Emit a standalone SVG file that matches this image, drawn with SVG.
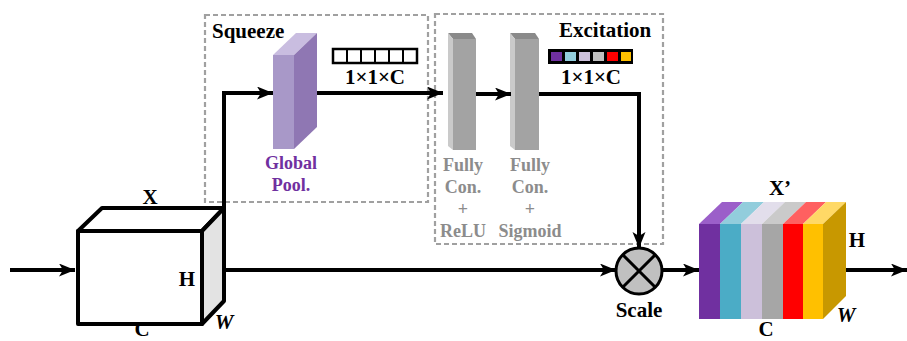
<svg xmlns="http://www.w3.org/2000/svg" width="907" height="341" viewBox="0 0 907 341">
<defs>
<style>
.lbl{font-family:"Liberation Serif","Times New Roman",serif;font-weight:bold;font-size:21px;fill:#000}
.it{font-style:italic}
.gray{font-family:"Liberation Serif","Times New Roman",serif;font-weight:bold;font-size:18px;fill:#8c8c8c;text-anchor:middle}
.purp{font-family:"Liberation Serif","Times New Roman",serif;font-weight:bold;font-size:18px;fill:#7030a0;text-anchor:middle}
.dash{fill:none;stroke:#a0a0a0;stroke-width:2.2;stroke-dasharray:5,3}
.conn{fill:none;stroke:#000;stroke-width:4}
.edge{stroke:#000;stroke-width:4;stroke-linejoin:round}
</style>
<marker id="ah" markerUnits="userSpaceOnUse" markerWidth="17" markerHeight="14" refX="16" refY="6.5" orient="auto">
<path d="M0,0 L16,6.5 L0,13 L4,6.5 z" fill="#000"/>
</marker>
</defs>

<rect width="907" height="341" fill="#fff"/>

<g id="squeeze-box">
<rect class="dash" x="205" y="15" width="223" height="187"/>
<text class="lbl" x="212" y="38">Squeeze</text>
</g>

<g id="excitation-box">
<rect class="dash" x="435" y="14" width="228" height="230"/>
<text class="lbl" x="559" y="37">Excitation</text>
</g>

<g id="input-x">
<polygon points="78,231 102,208 224,208 202,231" fill="#fff" class="edge"/>
<polygon points="202,231 224,208 224,301 202,324" fill="#e3e3e3" class="edge"/>
<rect x="78" y="231" width="124" height="93" fill="#fff" class="edge"/>
<text class="lbl" x="150" y="204" text-anchor="middle">X</text>
<text class="lbl" x="187" y="286" text-anchor="middle">H</text>
<text class="lbl it" x="224" y="329" text-anchor="middle">W</text>
<text class="lbl" x="142" y="336" font-size="14" text-anchor="middle">C</text>
</g>

<g id="global-pool">
<polygon points="273,55 296,33 317,33 294,55" fill="#c9bde0"/>
<polygon points="294,55 317,33 317,127 294,149" fill="#8f77b3"/>
<rect x="273" y="55" width="21" height="94" fill="#a898c8"/>
<text class="purp" x="291" y="169">Global</text>
<text class="purp" x="291" y="191">Pool.</text>
</g>

<g id="vec-squeeze">
<rect x="333" y="49" width="84" height="14" fill="#fff" stroke="#000" stroke-width="2.5"/>
<path d="M347,49V63M361,49V63M375,49V63M389,49V63M403,49V63" stroke="#000" stroke-width="2"/>
<text class="lbl" x="375" y="84" text-anchor="middle">1×1×C</text>
</g>

<g id="fc-relu">
<polygon points="448,33 472,33 476,39 453,39" fill="#8a8a8a"/>
<polygon points="448,33 453,39 453,150 448,146" fill="#cacaca"/>
<rect x="453" y="39" width="23" height="111" fill="#a3a3a3"/>
<text class="gray" x="463" y="171">Fully</text>
<text class="gray" x="463" y="193">Con.</text>
<text class="gray" x="463" y="215">+</text>
<text class="gray" x="463" y="237">ReLU</text>
</g>

<g id="fc-sigmoid">
<polygon points="510,33 535,33 539,39 515,39" fill="#8a8a8a"/>
<polygon points="510,33 515,39 515,150 510,146" fill="#cacaca"/>
<rect x="515" y="39" width="24" height="111" fill="#a3a3a3"/>
<text class="gray" x="530" y="171">Fully</text>
<text class="gray" x="530" y="193">Con.</text>
<text class="gray" x="530" y="215">+</text>
<text class="gray" x="530" y="237">Sigmoid</text>
</g>

<g id="vec-excitation">
<rect x="548" y="49" width="85" height="15" fill="#000"/>
<rect x="551" y="52" width="11" height="9" fill="#7030a0"/>
<rect x="565" y="52" width="11" height="9" fill="#92cddc"/>
<rect x="579" y="52" width="11" height="9" fill="#ccc0da"/>
<rect x="593" y="52" width="11" height="9" fill="#bfbfbf"/>
<rect x="607" y="52" width="11" height="9" fill="#ff0000"/>
<rect x="621" y="52" width="10" height="9" fill="#ffc000"/>
<text class="lbl" x="591" y="84" text-anchor="middle">1×1×C</text>
</g>

<g id="scale">
<circle cx="639" cy="271" r="23" fill="#c0c0c0" stroke="#000" stroke-width="3"/>
<path d="M622.7,254.7L655.3,287.3M655.3,254.7L622.7,287.3" stroke="#000" stroke-width="3"/>
<text class="lbl" x="639" y="317" text-anchor="middle">Scale</text>
</g>

<g id="output-x">
<polygon points="699,224 722,202 743,202 720,224" fill="#9b5fc9"/>
<polygon points="720,224 743,202 764,202 741,224" fill="#92cddc"/>
<polygon points="741,224 764,202 785,202 762,224" fill="#e2deeb"/>
<polygon points="762,224 785,202 806,202 783,224" fill="#cacaca"/>
<polygon points="783,224 806,202 826,202 803,224" fill="#ff6060"/>
<polygon points="803,224 826,202 846,202 823,224" fill="#ffd966"/>
<polygon points="823,224 846,202 846,296 823,319" fill="#c89800"/>
<rect x="699" y="224" width="21" height="95" fill="#7030a0"/>
<rect x="720" y="224" width="21" height="95" fill="#4bacc6"/>
<rect x="741" y="224" width="21" height="95" fill="#ccc0da"/>
<rect x="762" y="224" width="21" height="95" fill="#a6a6a6"/>
<rect x="783" y="224" width="20" height="95" fill="#ff0000"/>
<rect x="803" y="224" width="20" height="95" fill="#ffc000"/>
<text class="lbl" x="780" y="195" text-anchor="middle">X’</text>
<text class="lbl" x="857" y="247" text-anchor="middle">H</text>
<text class="lbl it" x="846" y="322" text-anchor="middle">W</text>
<text class="lbl" x="766" y="336" font-size="19" text-anchor="middle">C</text>
</g>

<g id="connectors">
<line class="conn" x1="10" y1="270" x2="75" y2="270" marker-end="url(#ah)"/>
<polyline class="conn" points="224,210 224,93 273,93" marker-end="url(#ah)"/>
<line class="conn" x1="317" y1="93" x2="443" y2="93" marker-end="url(#ah)"/>
<line class="conn" x1="476" y1="94" x2="511" y2="94" marker-end="url(#ah)"/>
<polyline class="conn" points="539,94 639,94 639,248" marker-end="url(#ah)"/>
<line class="conn" x1="224" y1="270" x2="616" y2="270" marker-end="url(#ah)"/>
<line class="conn" x1="662" y1="270" x2="699" y2="270" marker-end="url(#ah)"/>
<line class="conn" x1="846" y1="270" x2="907" y2="270" marker-end="url(#ah)"/>
</g>
</svg>
